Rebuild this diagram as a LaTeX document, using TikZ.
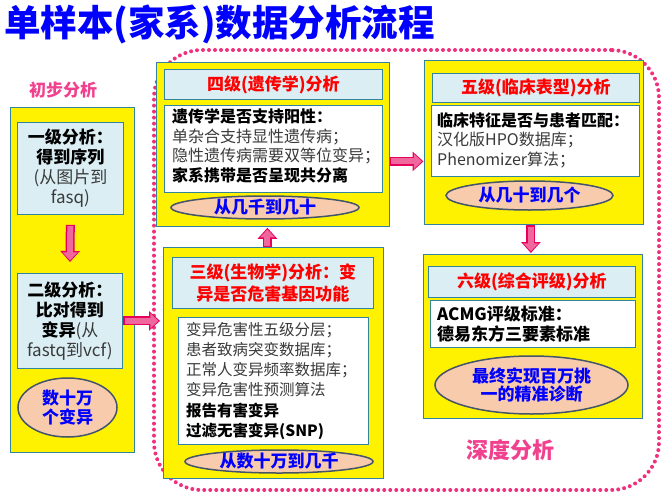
\documentclass[tikz,border=0pt]{standalone}
\usepackage{fontspec}
\setmainfont{Noto Sans CJK SC}
\usetikzlibrary{arrows.meta,shapes.geometric}
\definecolor{ttlblue}{HTML}{0000FF}
\definecolor{hdrred}{HTML}{FF0000}
\definecolor{hdrfill}{HTML}{DAEEF3}
\definecolor{edgec}{HTML}{31849B}
\definecolor{ellfill}{HTML}{F8CBAD}
\definecolor{elledge}{HTML}{44546A}
\definecolor{pinkdot}{HTML}{F0307E}
\definecolor{labpink}{HTML}{F0408E}
\definecolor{arrfill}{HTML}{F0679E}
\definecolor{arredge}{HTML}{E6005C}
\definecolor{bodygray}{HTML}{3A3A3A}
\newcommand{\gr}[1]{{\mdseries\color{bodygray}#1}}
\newcommand{\fatarrow}[4]{%
  \draw[arredge, line width=9pt, shorten <=#3, shorten >=#4, -{Triangle[width=19pt,length=11pt]}] #1 -- #2;
  \draw[arrfill, line width=6pt, shorten <=#3+1.3pt, shorten >=#4+1.6pt, -{Triangle[width=14.5pt,length=8pt]}] #1 -- #2;}
\begin{document}
\begin{tikzpicture}[x=1pt,y=-1pt,
  ybox/.style={draw=edgec, fill=yellow, line width=0.8pt, anchor=north west, inner sep=0pt},
  hbox/.style={draw=edgec, fill=hdrfill, line width=0.8pt, anchor=north west, inner sep=0pt},
  wbox/.style={draw=edgec, fill=white, line width=0.8pt, anchor=north west, inner sep=0pt},
  ell/.style={ellipse, draw=elledge, fill=ellfill, line width=1.5pt, inner sep=0pt, text=ttlblue, font=\fontsize{17}{19}\selectfont\bfseries, align=center},
  hdr/.style={text=hdrred, font=\fontsize{17}{22}\selectfont\bfseries, align=center, inner sep=0pt},
  body/.style={anchor=north west, inner sep=0pt, align=left, font=\fontsize{16}{19.5}\selectfont\bfseries},
  lbox/.style={text=black, font=\fontsize{17}{20}\selectfont\bfseries, align=center, inner sep=0pt},
  seclab/.style={text=labpink, font=\bfseries, inner sep=0pt}
]
\useasboundingbox (0,0) rectangle (664,498);
\fill[white] (0,0) rectangle (664,498);

% title
\node[anchor=west, text=ttlblue, font=\fontsize{36.5}{38}\selectfont\bfseries, inner sep=0pt] (title) at (4,24) {单样本(家系)数据分析流程};

% dotted region
\node[draw=pinkdot, line width=4pt, line cap=round, dash pattern=on 0pt off 6pt, rounded corners=48pt, minimum width=505pt, minimum height=440pt, anchor=north west, inner sep=0pt] (deep) at (152,48) {};

% section labels
\node[seclab, font=\fontsize{17}{19}\selectfont\bfseries] (lab1) at (63,90) {初步分析};
\node[seclab, font=\fontsize{22}{24}\selectfont\bfseries] (lab2) at (510,450) {深度分析};

% left column
\node[ybox, minimum width=124pt, minimum height=345pt] (L) at (10,107) {};
\node[hbox, minimum width=106pt, minimum height=92pt] (L1) at (17,122) {};
\node[lbox] (L1t) at (L1.center) {一级分析：\\得到序列\\\gr{(从图片到}\\\gr{fasq)}};
\node[hbox, minimum width=105pt, minimum height=95pt] (L2) at (17,273) {};
\node[lbox] (L2t) at (L2.center) {二级分析：\\比对得到\\变异\gr{(从}\\\gr{fastq到vcf)}};
\node[ell, minimum width=99pt, minimum height=59pt] (Le) at (67.5,407.5) {数十万\\个变异};

% level 4
\node[ybox, minimum width=233pt, minimum height=164pt] (B4) at (156,62) {};
\node[hbox, minimum width=218pt, minimum height=30pt] (H4) at (164,69) {};
\node[hdr] (H4t) at (H4.center) {四级(遗传学)分析};
\node[wbox, minimum width=218pt, minimum height=87pt] (W4) at (164,105) {};
\node[body] (W4t) at (172,108.5) {遗传学是否支持阳性：\\\gr{单杂合支持显性遗传病；}\\\gr{隐性遗传病需要双等位变异；}\\家系携带是否呈现共分离};
\node[ell, minimum width=188pt, minimum height=21pt] (E4) at (265,207.5) {从几千到几十};

% level 3
\node[ybox, minimum width=220pt, minimum height=231pt] (B3) at (163,247) {};
\node[hbox, minimum width=201pt, minimum height=51pt] (H3) at (172,257) {};
\node[hdr] (H3t) at (H3.center) {三级(生物学)分析：变\\异是否危害基因功能};
\node[wbox, minimum width=190pt, minimum height=127pt] (W3) at (178,317) {};
\node[body, font=\fontsize{15.5}{20.2}\selectfont\bfseries] (W3t) at (186,322) {\gr{变异危害性五级分层；}\\\gr{患者致病突变数据库；}\\\gr{正常人变异频率数据库；}\\\gr{变异危害性预测算法}\\报告有害变异\\过滤无害变异(SNP)};
\node[ell, minimum width=188pt, minimum height=21pt] (E3) at (279,461.5) {从数十万到几千};

% level 5
\node[ybox, minimum width=219pt, minimum height=164pt] (B5) at (424,60) {};
\node[hbox, minimum width=207pt, minimum height=29pt] (H5) at (432,73) {};
\node[hdr] (H5t) at (H5.center) {五级(临床表型)分析};
\node[wbox, minimum width=208pt, minimum height=71pt] (W5) at (431,105) {};
\node[body] (W5t) at (437,112) {临床特征是否与患者匹配：\\\gr{汉化版HPO数据库；}\\\gr{Phenomizer算法；}};
\node[ell, minimum width=167pt, minimum height=29pt] (E5) at (529.5,195.5) {从几十到几个};

% level 6
\node[ybox, minimum width=219pt, minimum height=164pt] (B6) at (423,254) {};
\node[hbox, minimum width=207pt, minimum height=31pt] (H6) at (428,266) {};
\node[hdr] (H6t) at (H6.center) {六级(综合评级)分析};
\node[wbox, minimum width=205pt, minimum height=47pt] (W6) at (430,300) {};
\node[body, font=\fontsize{17}{19.5}\selectfont\bfseries] (W6t) at (437,306) {ACMG评级标准：\\德易东方三要素标准};
\node[ell, minimum width=193pt, minimum height=58pt, font=\fontsize{17}{18}\selectfont\bfseries] (E6) at (531.5,385) {最终实现百万挑\\一的精准诊断};

% arrows
\fatarrow{(L1.south)}{(L2.north)}{10pt}{11pt}
\fatarrow{(L2.east)}{(L2.east -| B3.west)}{0.5pt}{3pt}
\fatarrow{([xshift=-6pt]B3.north)}{([xshift=-6pt]B3.north |- B4.south)}{0pt}{1pt}
\fatarrow{([yshift=-17pt]B4.east)}{([yshift=-17pt]B4.east -| B5.west)}{0pt}{0.5pt}
\fatarrow{([xshift=-3pt]B5.south)}{([xshift=-3pt]B5.south |- B6.north)}{0.5pt}{1pt}
\end{tikzpicture}
\end{document}
